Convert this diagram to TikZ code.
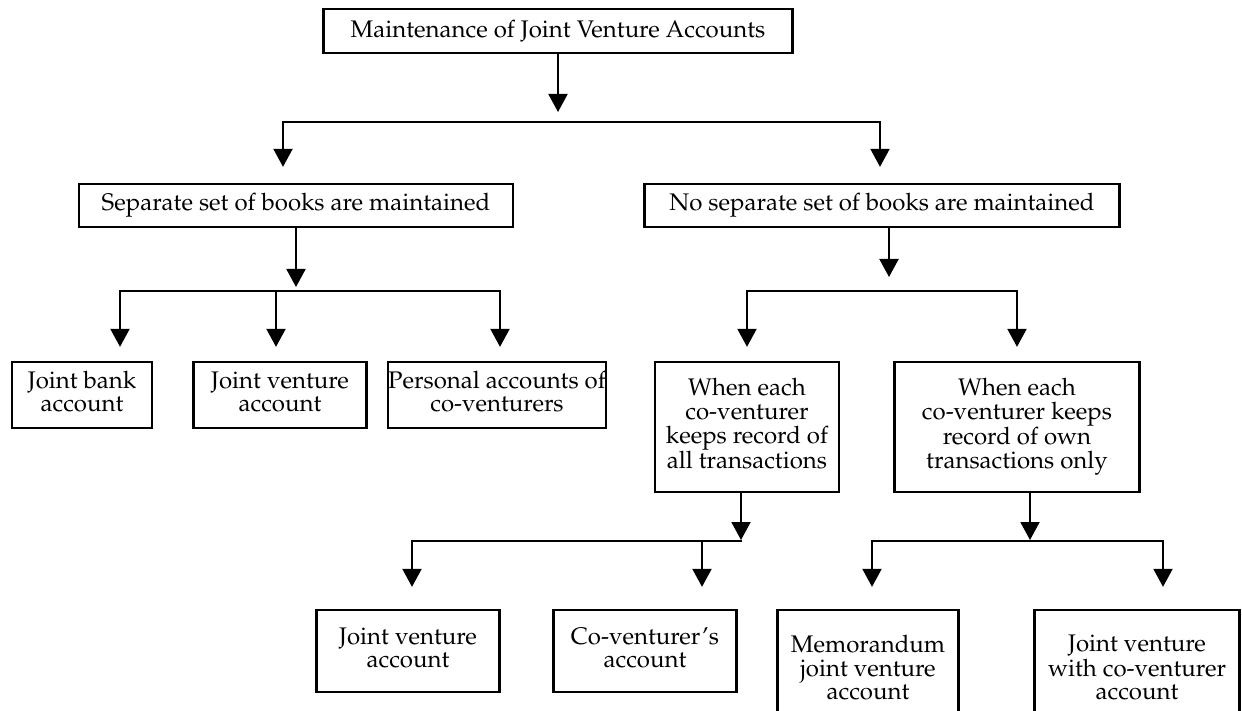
\documentclass[tikz,border=0pt]{standalone}
\usepackage[T1]{fontenc}
\usepackage{mathpazo}
\usetikzlibrary{arrows.meta}

\begin{document}
\begin{tikzpicture}[x=1pt,y=1pt]
		\tikzset{
  box/.style={
         rectangle,
         draw=black, line width=2.3pt,
         inner sep=0,
         text centered,
         font=\fontsize{24}{23.5}\selectfont,
         },
  arr/.style={
         line width=2pt, line cap=rect,
         -{Triangle[width=19pt,length=18pt]},
         },
}
    \useasboundingbox (0,0) rectangle (1242,-711);

    \node[box, minimum width=469pt, minimum height=44pt] (jva) at (558,-31)
    {Maintenance of Joint Venture Accounts};

    \node[box,
      below of=jva,
      node distance=174.5pt,
      xshift=-262pt,
      anchor=center,
      minimum width=434pt, minimum height=43pt] (sep)
    {Separate set of books are maintained};

    \node[box,
      right of=sep,
      node distance=586pt,
      anchor=center,
      minimum width=475pt, minimum height=43pt] (nosep)
    {No separate set of books are maintained};

    \node[box,
      below of=sep,
      node distance=189.5pt,
      xshift=-214pt,
      anchor=center,
      minimum width=140pt, minimum height=66pt] (bank)
    {
      \begin{tabular}{@{}c@{}}
        Joint bank\\
        account
      \end{tabular}
    };

    \node[box,
      right of=bank,
      node distance=198pt,
      anchor=center,
      minimum width=173pt, minimum height=66pt] (jvacc)
    {
      \begin{tabular}{@{}c@{}}
        Joint venture\\
        account
      \end{tabular}
    };

    \node[box,
      right of=jvacc,
      node distance=217pt,
      anchor=center,
      minimum width=208pt, minimum height=66pt] (personal)
    {
      \begin{tabular}{@{}c@{}}
        Personal accounts of\\
        co-venturers
      \end{tabular}
    };

    \node[box,
      below of=nosep,
      node distance=221.5pt,
      xshift=-135pt,
      anchor=center,
      minimum width=184pt, minimum height=130pt] (allrec)
    {
      \begin{tabular}{@{}c@{}}
        When each\\
        co-venturer\\
        keeps record of\\
        all transactions
      \end{tabular}
    };

    \node[box,
      right of=allrec,
      node distance=270pt,
      anchor=center,
      minimum width=245pt, minimum height=130pt] (ownrec)
    {
      \begin{tabular}{@{}c@{}}
        When each\\
        co-venturer keeps\\
        record of own\\
        transactions only
      \end{tabular}
    };

    \node[box,
      below of=allrec,
      node distance=224pt,
      xshift=-339pt,
      anchor=center,
      minimum width=183pt, minimum height=82pt] (jvacc2)
    {
      \begin{tabular}{@{}c@{}}
        Joint venture\\
        account
      \end{tabular}
    };

    \node[box,
      right of=jvacc2,
      node distance=237pt,
      anchor=center,
      minimum width=183pt, minimum height=82pt] (coacc)
    {
      \begin{tabular}{@{}c@{}}
        Co-venturer's\\
        account
      \end{tabular}
    };

    \node[box,
      below of=ownrec,
      node distance=246pt,
      xshift=-149pt,
      anchor=center,
      minimum width=181pt, minimum height=126pt] (memo)
    {
      \begin{tabular}{@{}c@{}}
        Memorandum\\
        joint venture\\
        account\\[4pt]
      \end{tabular}
    };

    \node[box,
      right of=memo,
      node distance=269pt,
      anchor=center,
      minimum width=205pt, minimum height=126pt] (jvco)
    {
      \begin{tabular}{@{}c@{}}
        Joint venture\\
        with co-venturer\\
        account\\[4pt]
      \end{tabular}
    };

    % branch points
    \coordinate (bar1l) at (283,-122);
    \coordinate (bar1r) at (880,-122);
    \coordinate (bar2l) at (120,-291);
    \coordinate (bar2m) at (276,-291);
    \coordinate (bar2r) at (500,-291);
    \coordinate (bar3m) at (889,-291);
    \coordinate (bar4l) at (412,-541);
    \coordinate (bar4m) at (702,-541);
    \coordinate (bar4r) at (741,-541);
    \coordinate (bar5l) at (872,-541);
    \coordinate (bar5m) at (1030,-541);
    \coordinate (bar5r) at (1163,-541);

    \draw[arr, shorten >=10pt] (jva.south) -- (jva.south |- bar1l);
    \draw[arr, shorten >=16pt] (bar1r) -- (bar1l) -- (bar1l |- sep.north);
    \draw[arr, shorten >=16pt] (bar1r) -- (bar1r |- nosep.north);

    \draw[arr, shorten >=4pt] (sep.south) -- (sep.south |- bar2l);
    \draw[arr, shorten >=14pt] (bar2r) -- (bar2l) -- (bar2l |- bank.north);
    \draw[arr, shorten >=14pt] (bar2m) -- (bar2m |- jvacc.north);
    \draw[arr, shorten >=14pt] (bar2r) -- (bar2r |- personal.north);

    \draw[arr, shorten >=14pt] (bar3m |- nosep.south) -- (bar3m);
    \draw[arr, shorten >=14pt] (ownrec.north |- bar3m) -- (allrec.north |- bar3m) -- (allrec.north);
    \draw[arr, shorten >=14pt] (ownrec.north |- bar3m) -- (ownrec.north);

    \draw[arr, shorten >=1pt] (bar4r |- allrec.south) -- (bar4r);
    \draw[arr, shorten >=22pt] (bar4r) -- (bar4l) -- (bar4l |- jvacc2.north);
    \draw[arr, shorten >=22pt] (bar4m) -- (bar4m |- coacc.north);

    \draw[arr, shorten >=1pt] (bar5m |- ownrec.south) -- (bar5m);
    \draw[arr, shorten >=22pt] (bar5r) -- (bar5l) -- (bar5l |- memo.north);
    \draw[arr, shorten >=22pt] (bar5r) -- (bar5r |- jvco.north);

	\end{tikzpicture}
\end{document}
